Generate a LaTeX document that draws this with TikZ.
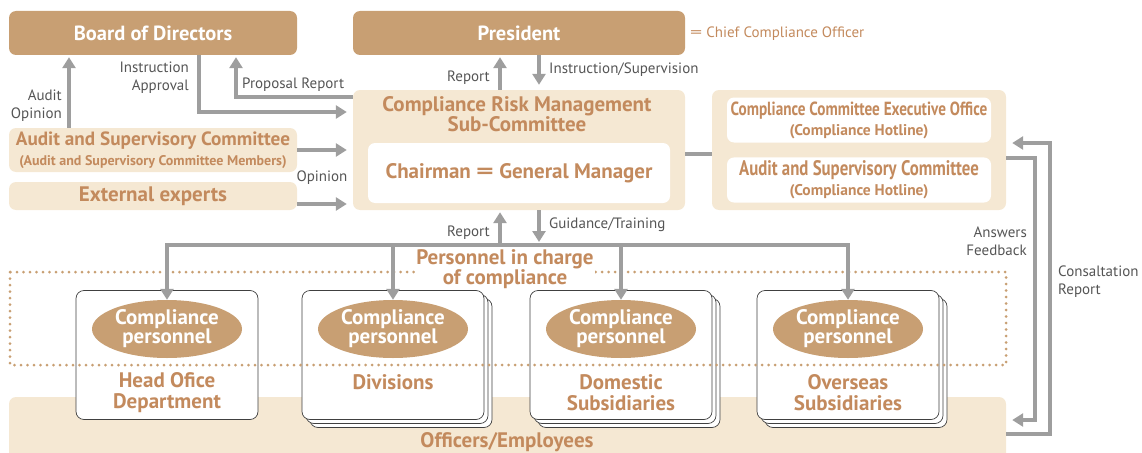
\documentclass[tikz,border=0pt]{standalone}
\usepackage{fontspec}
\setmainfont{PT Sans}
\newfontfamily\narrowfont[FakeStretch=0.8]{PT Sans}
\usetikzlibrary{positioning,shapes.geometric,shadows,arrows.meta}
\definecolor{tandark}{HTML}{C89F73}
\definecolor{tanpale}{HTML}{F5E8D3}
\definecolor{tantext}{HTML}{C38A5D}
\definecolor{arrowgray}{HTML}{9E9E9E}
\definecolor{labelgray}{HTML}{555555}
\newcommand{\wideeq}{\scalebox{1.6}[1]{=}}

\begin{document}
\begin{tikzpicture}[x=1pt,y=-1pt,
  head/.style={fill=tandark,rounded corners=7pt,text=white,font=\bfseries\fontsize{20.5}{22}\selectfont},
  pale/.style={fill=tanpale,rounded corners=7pt},
  inner/.style={fill=white,rounded corners=7pt},
  title/.style={text=tantext,font=\bfseries\fontsize{21}{20}\selectfont,align=center},
  unit/.style={draw=black!75,fill=white,rounded corners=8pt,line width=0.7pt,minimum width=182pt,minimum height=129pt},
  stack/.style={unit,double copy shadow={shadow xshift=4pt,shadow yshift=-4pt}},
  staff/.style={ellipse,fill=tandark,text=white,minimum width=150pt,minimum height=58pt,inner sep=0pt,align=center,font=\bfseries\fontsize{21}{19}\selectfont},
  arr/.style={draw=arrowgray,line width=3.5pt,-{Triangle[width=13pt,length=11pt]}},
  link/.style={draw=arrowgray,line width=3.5pt},
  lbl/.style={text=labelgray,font=\fontsize{15}{18}\selectfont,align=right,inner sep=1pt}]
\path[use as bounding box,clip] (0,0) rectangle (1142,452);

\node[head,minimum width=288pt,minimum height=44pt] (board) at (153,33) {Board of Directors};
\node[head,minimum width=332pt,minimum height=44pt] (president) at (519,33) {President};
\node[anchor=west,text=tantext,font=\fontsize{15}{18}\selectfont,inner sep=0pt] (cco) at (690,34) {\wideeq\ Chief Compliance Officer};

\node[pale,minimum width=332pt,minimum height=120pt] (subcom) at (519,150) {};
\node[title] (subtitle) at (517,114) {Compliance Risk Management\\Sub-Committee};
\node[inner,minimum width=302pt,minimum height=60pt,title] (chair) at (519,173) {Chairman \wideeq\ General Manager};

\node[pale,minimum width=294pt,minimum height=120pt] (office) at (859,150) {};
\node[inner,minimum width=264pt,minimum height=45pt,title] (hotline) at (859,120)
  {{\narrowfont\fontsize{19}{18}\selectfont Compliance Committee Executive Office}\\{\fontsize{15.5}{15}\selectfont (Compliance Hotline)}};
\node[inner,minimum width=264pt,minimum height=45pt,title] (asc-hotline) at (859,180)
  {{\narrowfont\fontsize{21}{18}\selectfont Audit and Supervisory Committee}\\{\fontsize{15.5}{15}\selectfont (Compliance Hotline)}};

\node[pale,minimum width=288pt,minimum height=44pt,title] (asc) at (153,150)
  {{\fontsize{19.2}{17}\selectfont Audit and Supervisory Committee}\\{\fontsize{14}{14}\selectfont (Audit and Supervisory Committee Members)}};
\node[pale,minimum width=288pt,minimum height=28pt,title] (experts) at (153,196) {External experts};

\node[pale,minimum width=997pt,minimum height=80pt] (band) at (507.5,437) {};
\node[title] (employees) at (507,442) {Officers/Employees};

\node[unit] (headoffice) at (167,355) {};
\node[stack] (divisions) at (393,355) {};
\node[stack] (domestic) at (621,355) {};
\node[stack] (overseas) at (848,355) {};
\foreach \u in {headoffice,divisions,domestic,overseas}
  \node[staff] (\u-staff) at ([yshift=26pt]\u.center) {Compliance\\personnel};
\node[title,font=\bfseries\fontsize{21}{21}\selectfont] (headoffice-name) at ([yshift=-37.5pt]headoffice.center) {Head Ofice\\Department};
\node[title] (divisions-name) at ([yshift=-27pt]divisions.center) {Divisions};
\node[title,font=\bfseries\fontsize{21}{21}\selectfont] (domestic-name) at ([yshift=-37.5pt]domestic.center) {Domestic\\Subsidiaries};
\node[title,font=\bfseries\fontsize{21}{21}\selectfont] (overseas-name) at ([yshift=-37.5pt]overseas.center) {Overseas\\Subsidiaries};

\draw[tandark,line width=3pt,dash pattern=on 0pt off 6.5pt,line cap=round] (10,272) rectangle (1006,365);
\node[title,fill=white,inner sep=1pt] (incharge) at (505,269) {Personnel in charge\\of compliance};

\coordinate (bus) at (500,245);
\coordinate (guide) at (539,245);
\coordinate (up) at (500,70);
\coordinate (down) at (539,70);
\draw[link,line cap=rect] (headoffice-staff.north |- bus) -- (overseas-staff.north |- bus);
\foreach \u in {headoffice,divisions,domestic,overseas}
  \draw[arr] (\u-staff.north |- bus) -- (\u-staff.north);
\draw[arr,shorten >=2pt] (bus) -- (bus |- subcom.south);
\draw[arr,shorten >=3pt] (guide |- subcom.south) -- (guide);
\draw[arr,shorten >=2pt] (up |- subcom.north) -- (up |- president.south);
\draw[arr,shorten >=5pt] (down |- president.south) -- (down |- subcom.north);

\draw[arr,shorten >=2pt] ([xshift=-84pt]asc.north) -- ([xshift=-84pt]board.south);
\draw[arr,shorten >=6pt] ([xshift=46pt]board.south) |- ([yshift=38pt]subcom.west);
\draw[arr,shorten >=2pt] ([yshift=53pt]subcom.west) -| ([xshift=83pt]board.south);
\draw[arr,shorten >=6pt] (asc.east) -- (asc.east -| subcom.west);
\draw[arr,shorten >=6pt] ([yshift=-8pt]experts.east) -- ([yshift=-8pt]experts.east -| subcom.west);
\draw[link] ([yshift=-4pt]subcom.east) -- ([yshift=-4pt]office.west);

\draw[arr,shorten >=6pt] ([yshift=-8pt]office.east) -- ++(29,0) |- ([yshift=17pt]band.east);
\draw[arr,shorten >=6pt] ([yshift=3pt]band.east) -- ++(44,0) |- ([yshift=7pt]office.east);

\node[lbl,anchor=east] (audit-opinion) at (63,106) {Audit\\Opinion};
\node[lbl,anchor=east] (instruction) at (190,78) {Instruction\\Approval};
\node[lbl,anchor=west] (proposal) at (241,85) {Proposal Report};
\node[lbl] (opinion) at (322,178) {Opinion};
\node[lbl,anchor=east] (report-up) at (491,78) {Report};
\node[lbl,anchor=west] (supervision) at (548,70) {Instruction/Supervision};
\node[lbl,anchor=east] (report-low) at (491,233) {Report};
\node[lbl,anchor=west] (guidance) at (548,225) {Guidance/Training};
\node[lbl,anchor=east] (answers) at (1028,241) {Answers\\Feedback};
\node[lbl,anchor=west,align=left] (consult) at (1057,282) {Consaltation\\Report};
\end{tikzpicture}
\end{document}
